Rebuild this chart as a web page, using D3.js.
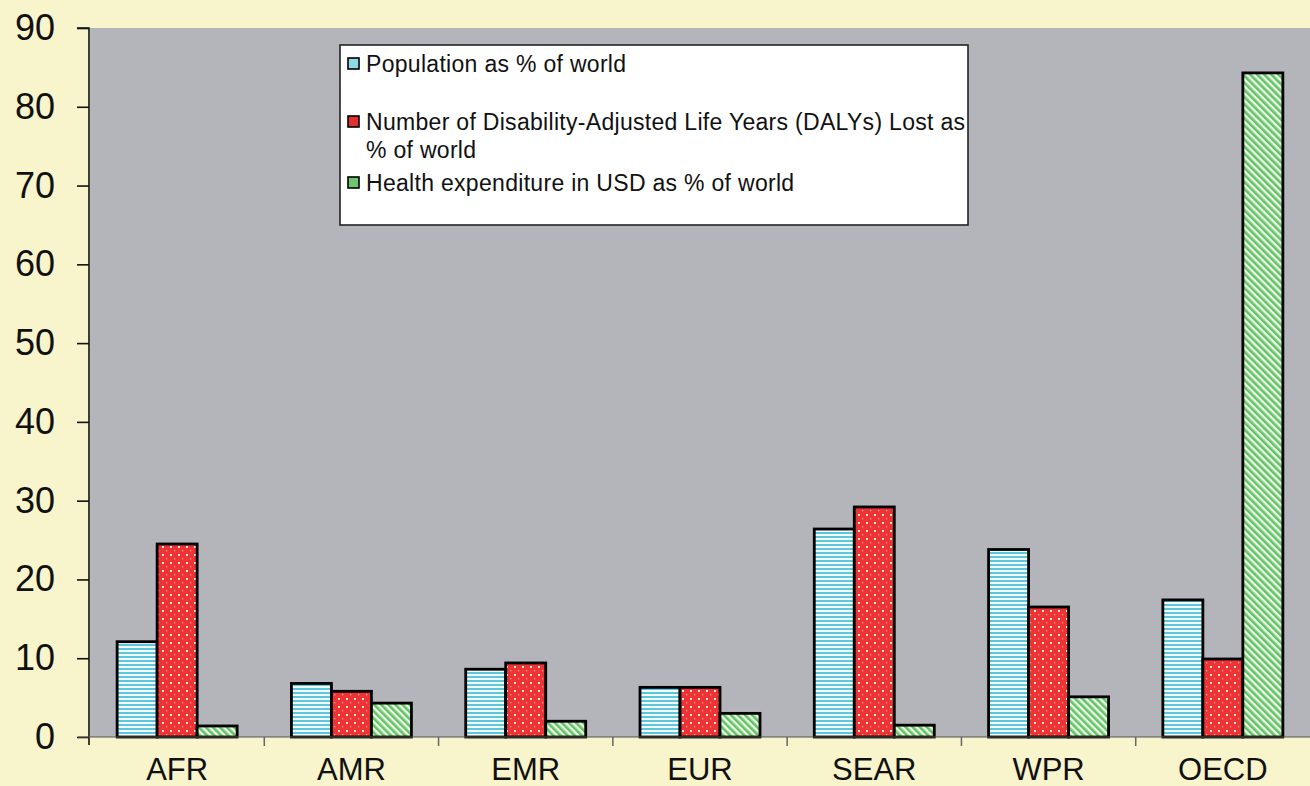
<!DOCTYPE html>
<html><head><meta charset="utf-8">
<script src="https://cdn.jsdelivr.net/npm/d3@7"></script>
<style>body{margin:0;background:#f8f4cc;}svg{display:block;}</style>
</head><body>
<svg id="c" width="1310" height="786"></svg>
<script>
const categories = ["AFR","AMR","EMR","EUR","SEAR","WPR","OECD"];
const population = [12.1, 6.8, 8.6, 6.3, 26.4, 23.8, 17.4];
const dalys = [24.5, 5.8, 9.4, 6.3, 29.2, 16.5, 9.9];
const healthExp = [1.4, 4.3, 2.0, 3.0, 1.5, 5.1, 84.3];
const seriesNames = ["Population as % of world", "Number of Disability-Adjusted Life Years (DALYs) Lost as\n% of world", "Health expenditure in USD as % of world"];
const yTicks = [0,10,20,30,40,50,60,70,80,90];

const svg = d3.select("#c");
const W = 1310, H = 786;
const m = {l:90, r:0, t:28, b:49};
const FONT = "Liberation Sans, Arial, sans-serif";
svg.append("rect").attr("width",W).attr("height",H).attr("fill","#f8f4cc");

const defs = svg.append("defs");
const p1 = defs.append("pattern").attr("id","pBlue").attr("patternUnits","userSpaceOnUse").attr("width",8).attr("height",4);
p1.append("rect").attr("width",8).attr("height",4).attr("fill","#f4fbfd");
p1.append("rect").attr("y",0).attr("width",8).attr("height",2).attr("fill","#5cc6da");
const p2 = defs.append("pattern").attr("id","pRed").attr("patternUnits","userSpaceOnUse").attr("width",8).attr("height",8);
p2.append("rect").attr("width",8).attr("height",8).attr("fill","#ec3434");
p2.append("rect").attr("x",2).attr("y",2).attr("width",2).attr("height",2).attr("fill","#ffe0e0");
p2.append("rect").attr("x",6).attr("y",6).attr("width",1.3).attr("height",1.3).attr("fill","#f59a9a");
const p3 = defs.append("pattern").attr("id","pGreen").attr("patternUnits","userSpaceOnUse").attr("width",5).attr("height",5).attr("patternTransform","rotate(-45)");
p3.append("rect").attr("width",5).attr("height",5).attr("fill","#eaf8e4");
p3.append("rect").attr("width",2.6).attr("height",5).attr("fill","#62c466");

const x = d3.scaleBand().domain(categories).range([m.l, W - m.r]).paddingInner(0).paddingOuter(0);
const y = d3.scaleLinear().domain([0,90]).range([H - m.b, m.t]);

svg.append("rect").attr("x",m.l).attr("y",m.t).attr("width",W-m.r-m.l).attr("height",H-m.b-m.t).attr("fill","#b4b5ba");

const series = [population, dalys, healthExp];
const fills = ["url(#pBlue)","url(#pRed)","url(#pGreen)"];
const swatchFill = ["#8fd8e6","#e03030","#70c470"];
const barW = 40;
const xs = d3.scaleBand().domain([0,1,2]).range([0, barW*3]);

series.forEach((vals, si) => {
  svg.append("g").selectAll("rect").data(vals).join("rect")
    .attr("x",(d,i)=> x(categories[i]) + (x.bandwidth()-barW*3)/2 + xs(si))
    .attr("y", d=>y(d))
    .attr("width", barW)
    .attr("height", d=> y(0)-y(d))
    .attr("fill", fills[si])
    .attr("stroke","#000").attr("stroke-width",2.8);
});

const ya = svg.append("g").attr("transform",`translate(${m.l-1},0)`)
  .call(d3.axisLeft(y).tickValues(yTicks).tickSize(12).tickPadding(22));
ya.select(".domain").attr("stroke","#111").attr("stroke-width",1.6).attr("d",`M-12,${y(90)}H0V${y(0)+8}`);
ya.selectAll(".tick line").attr("stroke","#111").attr("stroke-width",1.6);
ya.selectAll("text").attr("font-family",FONT).attr("font-size",36).attr("fill","#111");

const xa = svg.append("g").attr("transform",`translate(0,${y(0)})`)
  .call(d3.axisBottom(x).tickSize(0).tickPadding(14));
xa.select(".domain").attr("stroke","#555").attr("stroke-width",1.2).attr("d",`M${m.l-12},0H${W}`);
xa.selectAll("text").attr("font-family",FONT).attr("font-size",31).attr("fill","#111").attr("dy","0.95em");
svg.append("g").selectAll("line").data(categories.slice(1)).join("line")
  .attr("x1",d=>x(d)).attr("x2",d=>x(d)).attr("y1",y(0)).attr("y2",y(0)+9)
  .attr("stroke","#666").attr("stroke-width",1.5);

const lg = svg.append("g");
lg.append("rect").attr("x",340).attr("y",45).attr("width",628).attr("height",180).attr("fill","#fff").attr("stroke","#222").attr("stroke-width",1.6);
const legY = [64, 122, 183];
seriesNames.forEach((name, i) => {
  lg.append("rect").attr("x",348).attr("y",legY[i]-6).attr("width",11).attr("height",11)
    .attr("fill",swatchFill[i]).attr("stroke","#000").attr("stroke-width",1.6);
  const t = lg.append("text").attr("x",366).attr("y",legY[i]+8)
    .attr("font-family",FONT).attr("font-size",23).attr("letter-spacing",0.3).attr("fill","#111");
  name.split("\n").forEach((ln, k) => {
    t.append("tspan").attr("x", 366).attr("dy", k===0?0:28).text(ln);
  });
});
</script>
</body></html>
